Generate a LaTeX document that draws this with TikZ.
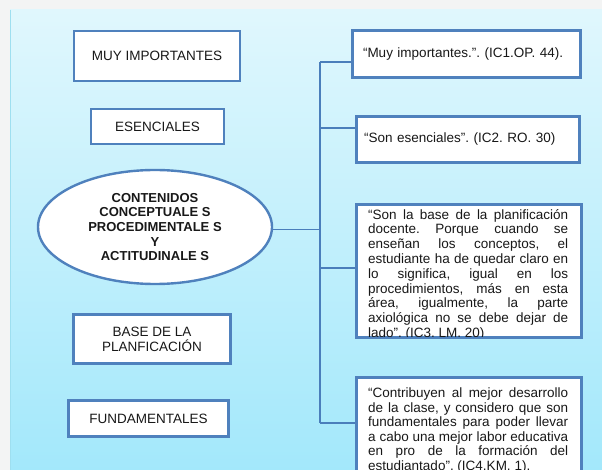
\documentclass[tikz,border=0pt]{standalone}
\usepackage{fontspec}
\setmainfont{Liberation Sans}
\usetikzlibrary{shapes.geometric}
\frenchspacing
\definecolor{pagegrey}{HTML}{F3F4F4}
\definecolor{bgtop}{HTML}{E0F7FD}
\definecolor{bgbot}{HTML}{A3E8FB}
\definecolor{edgeblue}{HTML}{9EDFF0}
\definecolor{boxblue}{HTML}{4F81BD}
\definecolor{lineblue}{HTML}{4A7EBB}
\definecolor{txt}{HTML}{181818}
\begin{document}
\begin{tikzpicture}[x=1pt,y=-1pt,
  lbox/.style={draw=boxblue, line width=2.6pt, fill=white, text=txt,
    font=\fontsize{13.5}{15}\selectfont, align=center, inner sep=0pt},
  rbox/.style={draw=boxblue, line width=2.6pt, fill=white, inner sep=0pt},
  rtext/.style={text=txt, font=\fontsize{13.5}{14.5}\selectfont,
    text width=200pt, align=justify, inner sep=0pt, anchor=north west},
  conn/.style={draw=lineblue, line width=1.1pt}]
\useasboundingbox (0,0) rectangle (602,470);
\fill[pagegrey] (0,0) rectangle (602,470);
\shade[top color=bgtop, bottom color=bgbot] (10,10) rectangle (602,470);
\draw[edgeblue, line width=1pt] (10,10) -- (10,470);

% left column
\node[lbox, minimum width=166pt, minimum height=50pt] (mi) at (157,56) {MUY IMPORTANTES};
\node[lbox, minimum width=133pt, minimum height=35pt] (es) at (157.5,126.5) {ESENCIALES};
\node[ellipse, draw=boxblue, line width=2.4pt, fill=white, minimum width=234pt,
  minimum height=114pt, inner sep=0pt, align=center, text=txt,
  font=\bfseries\fontsize{13}{14.7}\selectfont] (ell) at (155,227)
  {CONTENIDOS\\CONCEPTUALE S\\PROCEDIMENTALE S\\Y\\ACTITUDINALE S};
\node[lbox, minimum width=157pt, minimum height=49pt] (base) at (152,339) {BASE DE LA\\PLANFICACIÓN};
\node[lbox, minimum width=160pt, minimum height=36pt] (fund) at (148.5,418.5) {FUNDAMENTALES};

% right column
\node[rbox, minimum width=228pt, minimum height=47pt, text width=207pt, align=left,
  text=txt, font=\fontsize{13.5}{15}\selectfont] (r1) at (466.5,54) {“Muy importantes.”. (IC1.OP. 44).};
\node[rbox, minimum width=223pt, minimum height=46pt, text width=208pt, align=left,
  text=txt, font=\fontsize{13.5}{15}\selectfont] (r2) at (468,139.5) {“Son esenciales”. (IC2. RO. 30)};
\node[rbox, minimum width=225pt, minimum height=133pt] (r3) at (469,271) {};
\begin{scope}
  \clip (358,206) rectangle (580,336);
  \node[rtext, font=\fontsize{13.5}{14.8}\selectfont] (t3) at (368,209) {“Son la base de la planificación\linebreak
  docente. Porque cuando se\linebreak
  enseñan los conceptos, el\linebreak
  estudiante ha de quedar claro en\linebreak
  lo significa, igual en los\linebreak
  procedimientos, más en esta\linebreak
  área, igualmente, la parte\linebreak
  axiológica no se debe dejar de\linebreak
  lado”. (IC3. LM. 20)};
\end{scope}
\node[rbox, minimum width=225pt, minimum height=120pt] (r4) at (469,437.5) {};
\node[rtext] (t4) at (368,388) {“Contribuyen al mejor desarrollo\linebreak
  de la clase, y considero que son\linebreak
  fundamentales para poder llevar\linebreak
  a cabo una mejor labor educativa\linebreak
  en pro de la formación del\linebreak
  estudiantado”. (IC4.KM. 1).};

% connectors
\coordinate (v1) at (320,62);
\coordinate (v2) at (320,128);
\coordinate (ve) at (320,229.5);
\coordinate (v3) at (320,268);
\coordinate (v4) at (320,423);
\draw[conn] (v1) -- (v4);
\draw[conn] (v1) -- (v1 -| r1.west);
\draw[conn] (v2) -- (v2 -| r2.west);
\draw[conn] (v3) -- (v3 -| r3.west);
\draw[conn] (v4) -- (v4 -| r4.west);
\draw[conn] (ell.east |- ve) -- (ve);
\end{tikzpicture}
\end{document}
